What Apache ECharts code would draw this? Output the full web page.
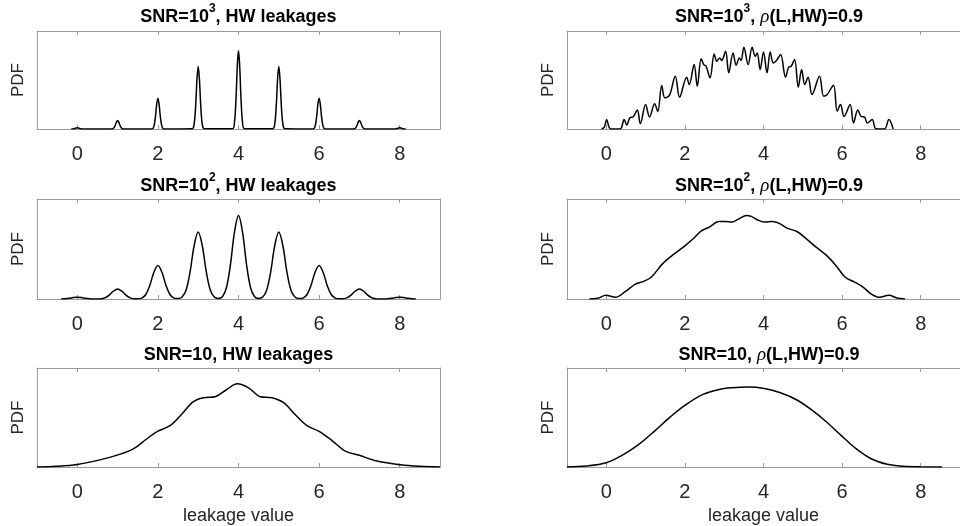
<!DOCTYPE html>
<html>
<head>
<meta charset="utf-8">
<title>Leakage PDFs</title>
<script src="https://cdn.jsdelivr.net/npm/echarts@6/dist/echarts.min.js"></script>
<style>html,body{margin:0;padding:0;background:#fff;}</style>
</head>
<body>
<div id="main" style="width:960px;height:526px;"></div>
<script type="text/javascript">
// x ticks shown on every panel
var tickValues = [0, 2, 4, 6, 8];

// curves, y as a fraction of the panel height
var hwSnr1000 = [
  [-0.15,0],[-0.1,0.001],[-0.06,0.005],[-0.03,0.01],[0,0.012],[0.03,0.01],[0.06,0.005],[0.1,0.001],[0.15,0],
  [0.85,0],[0.9,0.007],[0.94,0.036],[0.97,0.07],[1,0.087],[1.03,0.07],[1.06,0.036],[1.1,0.007],[1.15,0],
  [1.85,0.001],[1.9,0.026],[1.94,0.129],[1.97,0.252],[2,0.315],[2.03,0.252],[2.06,0.129],[2.1,0.026],[2.15,0.001],
  [2.85,0.003],[2.9,0.052],[2.94,0.261],[2.97,0.51],[3,0.637],[3.03,0.51],[3.06,0.261],[3.1,0.052],[3.15,0.003],
  [3.85,0.003],[3.9,0.066],[3.94,0.328],[3.97,0.64],[4,0.8],[4.03,0.64],[4.06,0.328],[4.1,0.066],[4.15,0.003],
  [4.85,0.003],[4.9,0.052],[4.94,0.261],[4.97,0.51],[5,0.637],[5.03,0.51],[5.06,0.261],[5.1,0.052],[5.15,0.003],
  [5.85,0.001],[5.9,0.026],[5.94,0.129],[5.97,0.252],[6,0.315],[6.03,0.252],[6.06,0.129],[6.1,0.026],[6.15,0.001],
  [6.85,0],[6.9,0.007],[6.94,0.036],[6.97,0.07],[7,0.087],[7.03,0.07],[7.06,0.036],[7.1,0.007],[7.15,0],
  [7.85,0],[7.9,0.001],[7.94,0.005],[7.97,0.01],[8,0.012],[8.03,0.01],[8.06,0.005],[8.1,0.001],[8.15,0]
];

var rhoSnr1000 = [
  [-0.12,0],[-0.05,0.02],[0.01,0.098],[0.06,0.03],[0.11,0],[0.31,0],[0.38,0.01],[0.455,0.098],
  [0.52,0.04],[0.6,0.115],[0.685,0.125],[0.79,0.193],[0.865,0.054],[1.0,0.25],[1.1,0.122],[1.23,0.257],
  [1.31,0.176],[1.41,0.444],[1.49,0.318],[1.61,0.346],[1.755,0.539],[1.865,0.325],[2.045,0.529],[2.11,0.454],
  [2.235,0.657],[2.315,0.437],[2.415,0.718],[2.48,0.657],[2.54,0.64],[2.64,0.522],[2.745,0.766],[2.81,0.692],
  [2.885,0.725],[2.935,0.7],[3.035,0.793],[3.115,0.573],[3.225,0.776],[3.305,0.651],[3.385,0.725],[3.43,0.7],
  [3.5,0.834],[3.61,0.657],[3.71,0.834],[3.79,0.742],[3.84,0.776],[3.915,0.606],[4.0,0.786],[4.09,0.573],
  [4.17,0.786],[4.25,0.674],[4.33,0.698],[4.435,0.759],[4.56,0.529],[4.64,0.63],[4.705,0.64],[4.79,0.708],
  [4.885,0.427],[4.97,0.606],[5.05,0.454],[5.135,0.529],[5.235,0.352],[5.425,0.539],[5.53,0.335],[5.61,0.346],
  [5.78,0.447],[5.875,0.182],[5.96,0.25],[6.05,0.128],[6.205,0.25],[6.29,0.062],[6.4,0.193],[6.48,0.13],
  [6.575,0.12],[6.64,0.061],[6.765,0.097],[6.86,0.002],[7.08,0],[7.19,0.096],[7.3,0]
];

var hwSnr100 = [
  [-0.4,0],[-0.3,0.002],[-0.2,0.007],[-0.1,0.014],[0,0.017],[0.1,0.014],[0.2,0.007],[0.3,0.003],[0.4,0.001],
  [0.5,0.001],[0.6,0.003],[0.7,0.014],[0.8,0.041],[0.9,0.08],[1,0.1],[1.1,0.08],[1.2,0.041],[1.3,0.014],
  [1.4,0.003],[1.5,0.002],[1.6,0.009],[1.7,0.045],[1.8,0.137],[1.9,0.267],[2,0.334],[2.1,0.267],[2.2,0.137],
  [2.3,0.045],[2.4,0.009],[2.5,0.004],[2.6,0.019],[2.7,0.09],[2.8,0.274],[2.9,0.535],[3,0.669],[3.1,0.535],
  [3.2,0.274],[3.3,0.09],[3.4,0.019],[3.5,0.006],[3.6,0.023],[3.7,0.113],[3.8,0.343],[3.9,0.669],[4,0.836],
  [4.1,0.669],[4.2,0.343],[4.3,0.113],[4.4,0.023],[4.5,0.006],[4.6,0.019],[4.7,0.09],[4.8,0.274],[4.9,0.535],
  [5,0.669],[5.1,0.535],[5.2,0.274],[5.3,0.09],[5.4,0.019],[5.5,0.004],[5.6,0.009],[5.7,0.045],[5.8,0.137],
  [5.9,0.267],[6,0.334],[6.1,0.267],[6.2,0.137],[6.3,0.045],[6.4,0.009],[6.5,0.002],[6.6,0.003],[6.7,0.014],
  [6.8,0.041],[6.9,0.08],[7,0.1],[7.1,0.08],[7.2,0.041],[7.3,0.014],[7.4,0.003],[7.5,0.001],[7.6,0.001],
  [7.7,0.003],[7.8,0.007],[7.9,0.014],[8,0.017],[8.1,0.014],[8.2,0.007],[8.3,0.002],[8.4,0]
];

var rhoSnr100 = [
  [-0.43,0],[-0.22,0.007],[-0.01,0.037],[0.23,0.017],[0.48,0.073],[0.73,0.147],[0.93,0.174],[1.14,0.217],
  [1.43,0.351],[1.72,0.448],[2.0,0.532],[2.21,0.602],[2.42,0.682],[2.62,0.719],[2.87,0.775],[3.03,0.775],
  [3.2,0.769],[3.36,0.799],[3.57,0.836],[3.69,0.826],[3.84,0.793],[4.02,0.769],[4.23,0.775],[4.39,0.759],
  [4.6,0.709],[4.85,0.675],[5.09,0.602],[5.34,0.518],[5.59,0.441],[5.83,0.341],[6.08,0.217],[6.33,0.167],
  [6.54,0.117],[6.74,0.05],[6.95,0.017],[7.19,0.037],[7.4,0.01],[7.6,0]
];

var hwSnr10 = [
  [-1,0],[-0.52,0.007],[0,0.026],[0.56,0.072],[1.03,0.125],[1.39,0.183],[1.72,0.283],[1.99,0.36],
  [2.3,0.417],[2.59,0.533],[2.88,0.66],[3.13,0.7],[3.42,0.71],[3.71,0.783],[3.97,0.84],[4.25,0.8],
  [4.54,0.71],[4.83,0.7],[5.12,0.65],[5.41,0.527],[5.7,0.417],[6.0,0.36],[6.32,0.267],[6.65,0.16],
  [7.0,0.118],[7.44,0.06],[8.02,0.023],[8.52,0.007],[9,0]
];

var rhoSnr10 = [
  [-1,0],[-0.51,0.01],[0,0.043],[0.4,0.117],[0.81,0.223],[1.22,0.36],[1.63,0.507],[2.0,0.623],
  [2.46,0.733],[2.87,0.783],[3.2,0.8],[3.61,0.807],[4.02,0.793],[4.43,0.75],[4.85,0.677],[5.26,0.567],
  [5.59,0.46],[5.98,0.317],[6.33,0.193],[6.74,0.083],[7.15,0.027],[7.56,0.007],[7.98,0.002],[8.54,0]
];

var titleTexts = [
  '{b|SNR=10}{sup|3}{b|, HW leakages}',
  '{b|SNR=10}{sup|3}{b|, }{rho|\u03c1}{b|(L,HW)=0.9}',
  '{b|SNR=10}{sup|2}{b|, HW leakages}',
  '{b|SNR=10}{sup|2}{b|, }{rho|\u03c1}{b|(L,HW)=0.9}',
  '{b|SNR=10, HW leakages}',
  '{b|SNR=10, }{rho|\u03c1}{b|(L,HW)=0.9}'
];
var curves = [hwSnr1000, rhoSnr1000, hwSnr100, rhoSnr100, hwSnr10, rhoSnr10];

var rowTop = [31, 199, 368];
var rowHeight = [98, 100, 100];
var titleTop = [3, 172, 341];
var colLeft = [37, 567];
var colWidth = [403, 404];

var axisColor = '#9a9a9a';
var textColor = '#262626';
var font = 'Liberation Sans, Arial, sans-serif';

var myChart = echarts.init(document.getElementById('main'));

var option = {
  backgroundColor: '#fff',
  animation: false,
  title: [],
  grid: [],
  xAxis: [],
  yAxis: [],
  series: []
};

for (var i = 0; i < 6; i++) {
  var row = Math.floor(i / 2), col = i % 2;
  option.grid.push({
    left: colLeft[col], top: rowTop[row], width: colWidth[col], height: rowHeight[row]
  });
  option.title.push({
    text: titleTexts[i],
    left: colLeft[col] + colWidth[col] / 2,
    top: titleTop[row],
    textAlign: 'center',
    padding: 0,
    textStyle: {
      rich: {
        b: { fontSize: 18, fontWeight: 'bold', color: '#000', fontFamily: font, lineHeight: 28 },
        sup: { fontSize: 12, fontWeight: 'bold', color: '#000', fontFamily: font, lineHeight: 12, padding: [0, 0, 16, 0] },
        rho: { fontSize: 19, fontStyle: 'italic', fontWeight: 'normal', color: '#000', fontFamily: 'Liberation Serif, serif', lineHeight: 28 }
      }
    }
  });
  // bottom axis with labels
  option.xAxis.push({
    type: 'value', gridIndex: i, min: -1, max: 9, position: 'bottom',
    axisLine: { show: true, onZero: false, lineStyle: { color: axisColor, width: 1 } },
    axisTick: { show: true, inside: true, length: 4, customValues: tickValues, lineStyle: { color: axisColor } },
    axisLabel: { show: true, customValues: tickValues, fontSize: 20, color: textColor, fontFamily: font, margin: 15 },
    splitLine: { show: false },
    name: row === 2 ? 'leakage value' : '',
    nameLocation: 'middle', nameGap: 40,
    nameTextStyle: { fontSize: 18, color: textColor, fontFamily: font }
  });
  // top edge of the box with inward ticks
  option.xAxis.push({
    type: 'value', gridIndex: i, min: -1, max: 9, position: 'top',
    axisLine: { show: true, onZero: false, lineStyle: { color: axisColor, width: 1 } },
    axisTick: { show: true, inside: true, length: 4, customValues: tickValues, lineStyle: { color: axisColor } },
    axisLabel: { show: false },
    splitLine: { show: false }
  });
  option.yAxis.push({
    type: 'value', gridIndex: i, min: 0, max: 1, position: 'left',
    axisLine: { show: true, onZero: false, lineStyle: { color: axisColor, width: 1 } },
    axisTick: { show: false }, axisLabel: { show: false }, splitLine: { show: false },
    name: 'PDF', nameLocation: 'middle', nameRotate: 90, nameGap: 10,
    nameTextStyle: { fontSize: 17, color: textColor, fontFamily: font }
  });
  option.yAxis.push({
    type: 'value', gridIndex: i, min: 0, max: 1, position: 'right',
    axisLine: { show: true, onZero: false, lineStyle: { color: axisColor, width: 1 } },
    axisTick: { show: false }, axisLabel: { show: false }, splitLine: { show: false }
  });
  option.series.push({
    type: 'line',
    xAxisIndex: 2 * i, yAxisIndex: 2 * i,
    data: curves[i],
    showSymbol: false,
    smooth: 0.35,
    lineStyle: { color: '#000', width: 1.5 },
    silent: true
  });
}

myChart.setOption(option);
</script>
</body>
</html>
